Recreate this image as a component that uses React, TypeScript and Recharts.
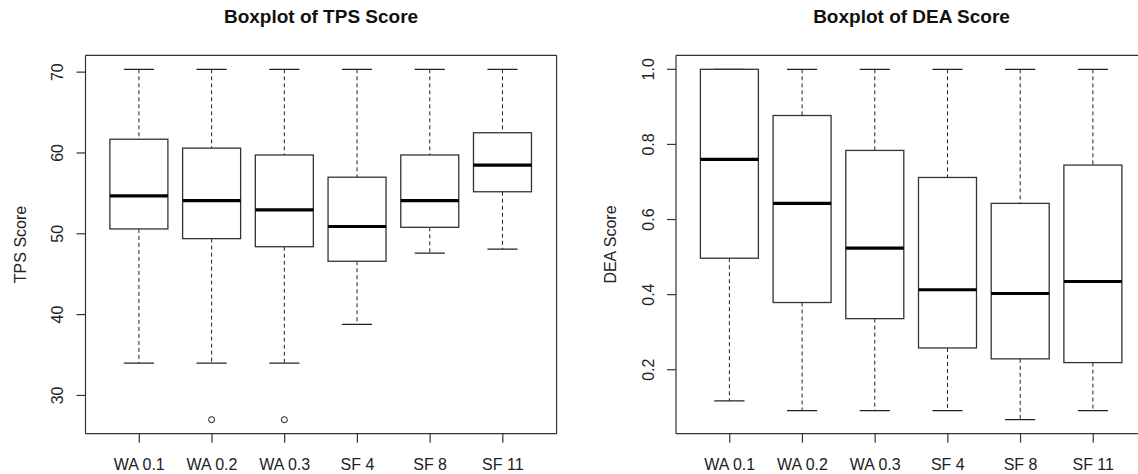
import React from "react";
import { ComposedChart, Bar, XAxis, YAxis, CartesianGrid } from "recharts";

const groups = ["WA 0.1", "WA 0.2", "WA 0.3", "SF 4", "SF 8", "SF 11"];

// TPS score
const tpsMin = [34.0, 34.0, 34.0, 38.8, 47.6, 48.1];
const tpsQ1 = [50.6, 49.4, 48.4, 46.6, 50.8, 55.2];
const tpsMedian = [54.7, 54.1, 52.95, 50.9, 54.1, 58.5];
const tpsQ3 = [61.7, 60.6, 59.75, 57.0, 59.75, 62.5];
const tpsMax = [70.35, 70.35, 70.35, 70.35, 70.35, 70.35];
const tpsOutliers: number[][] = [[], [27.0], [27.0], [], [], []];
const tpsTicks = [30, 40, 50, 60, 70];

// DEA score
const deaMin = [0.117, 0.091, 0.091, 0.091, 0.067, 0.091];
const deaQ1 = [0.497, 0.379, 0.336, 0.258, 0.229, 0.219];
const deaMedian = [0.76, 0.643, 0.524, 0.413, 0.403, 0.435];
const deaQ3 = [1.0, 0.877, 0.784, 0.712, 0.643, 0.745];
const deaMax = [1.0, 1.0, 1.0, 1.0, 1.0, 1.0];
const deaOutliers: number[][] = [[], [], [], [], [], []];
const deaTicks = [0.2, 0.4, 0.6, 0.8, 1.0];

const FONT = "'Liberation Sans', Arial, sans-serif";
const INK = "#222";

const buildRows = (mn: number[], q1: number[], md: number[], q3: number[], mx: number[], out: number[][]) =>
  groups.map((name, i) => ({ name, min: mn[i], q1: q1[i], median: md[i], q3: q3[i], max: mx[i], outliers: out[i] }));

// R-style axis range: data range plus 4% on each side
const rangeOf = (mn: number[], mx: number[], out: number[][]) => {
  const all = [...mn, ...mx, ...out.flat()];
  const lo = Math.min(...all);
  const hi = Math.max(...all);
  const pad = (hi - lo) * 0.04;
  return [lo - pad, hi + pad];
};

const BoxShape = (props: any) => {
  const { x, y, width, height, payload } = props;
  const top = Math.min(y, y + height);
  const bottom = Math.max(y, y + height);
  const span = payload.max - payload.min;
  const py = (v: number) => top + ((payload.max - v) / span) * (bottom - top);
  const cx = x + width / 2;
  const cap = width * 0.26;
  const yQ1 = py(payload.q1);
  const yQ3 = py(payload.q3);
  const yMed = py(payload.median);
  return (
    <g>
      <line x1={cx} x2={cx} y1={top} y2={yQ3} stroke={INK} strokeDasharray="4 3" />
      <line x1={cx} x2={cx} y1={yQ1} y2={bottom} stroke={INK} strokeDasharray="4 3" />
      <line x1={cx - cap} x2={cx + cap} y1={top} y2={top} stroke={INK} strokeWidth={1.2} />
      <line x1={cx - cap} x2={cx + cap} y1={bottom} y2={bottom} stroke={INK} strokeWidth={1.2} />
      <rect x={x} y={yQ3} width={width} height={yQ1 - yQ3} fill="#fff" stroke="#333" strokeWidth={1.3} />
      <line x1={x} x2={x + width} y1={yMed} y2={yMed} stroke="#000" strokeWidth={3.2} />
      {payload.outliers.map((o: number, k: number) => (
        <circle key={k} cx={cx} cy={py(o)} r={3} fill="none" stroke="#111" strokeWidth={1} />
      ))}
    </g>
  );
};

const XTick = ({ x, y, payload }: any) => (
  <text x={x} y={y + 25} textAnchor="middle" fontSize={16} fontFamily={FONT} fill={INK}>
    {payload.value}
  </text>
);

const makeYTick = (fmt: (v: number) => string) => ({ x, y, payload }: any) => (
  <text
    x={x - 11}
    y={y}
    transform={`rotate(-90, ${x - 11}, ${y})`}
    textAnchor="middle"
    fontSize={16}
    fontFamily={FONT}
    fill={INK}
  >
    {fmt(payload.value)}
  </text>
);

const makeAxisTitle = (text: string) => (p: any) => {
  const vb = p.viewBox || {};
  const bx = vb.x + vb.width - 60;
  const by = vb.y + vb.height / 2;
  return (
    <text x={bx} y={by} transform={`rotate(-90, ${bx}, ${by})`} textAnchor="middle" fontSize={16} fontFamily={FONT} fill={INK}>
      {text}
    </text>
  );
};

type PanelProps = {
  left: number;
  width: number;
  axisWidth: number;
  title: string;
  yTitle: string;
  rows: any[];
  domain: number[];
  ticks: number[];
  fmt: (v: number) => string;
};

const Panel = ({ left, width, axisWidth, title, yTitle, rows, domain, ticks, fmt }: PanelProps) => {
  const marginRight = 12.4;
  return (
    <div style={{ position: "absolute", left, top: 0, width, height: 474 }}>
      <div
        style={{
          position: "absolute",
          left: axisWidth,
          width: width - axisWidth - marginRight,
          top: 6.8,
          textAlign: "center",
          fontFamily: FONT,
          fontWeight: "bold",
          fontSize: 19,
          lineHeight: 1,
          color: "#111",
          whiteSpace: "nowrap",
        }}
      >
        {title}
      </div>
      <ComposedChart width={width} height={474} data={rows} margin={{ top: 55.3, right: marginRight, bottom: 0.3, left: 0 }}>
        <CartesianGrid
          stroke="#333"
          strokeWidth={1.2}
          horizontalCoordinatesGenerator={({ offset }: any) => [offset.top, offset.top + offset.height]}
          verticalCoordinatesGenerator={({ offset }: any) => [offset.left, offset.left + offset.width]}
        />
        <XAxis
          dataKey="name"
          type="category"
          height={40}
          padding={{ left: 17.4, right: 17.4 }}
          axisLine={false}
          tickLine={{ stroke: "#333", strokeWidth: 1.2 }}
          tickSize={9}
          tickMargin={2}
          interval={0}
          tick={<XTick />}
        />
        <YAxis
          type="number"
          width={axisWidth}
          domain={domain}
          ticks={ticks}
          allowDataOverflow
          axisLine={false}
          tickLine={{ stroke: "#333", strokeWidth: 1.2 }}
          tickSize={9}
          tickMargin={2}
          tick={makeYTick(fmt)}
          label={{ content: makeAxisTitle(yTitle) }}
        />
        <Bar
          dataKey={(d: any) => [d.min, d.max]}
          barSize={58}
          isAnimationActive={false}
          shape={(p: any) => <BoxShape {...p} />}
        />
      </ComposedChart>
    </div>
  );
};

const tpsRows = buildRows(tpsMin, tpsQ1, tpsMedian, tpsQ3, tpsMax, tpsOutliers);
const deaRows = buildRows(deaMin, deaQ1, deaMedian, deaQ3, deaMax, deaOutliers);

export default function App() {
  return (
    <div style={{ position: "absolute", left: 0, top: 0, width: 1138, height: 474, overflow: "hidden", background: "#fff" }}>
      <Panel
        left={0}
        width={569}
        axisWidth={85.5}
        title="Boxplot of TPS Score"
        yTitle="TPS Score"
        rows={tpsRows}
        domain={rangeOf(tpsMin, tpsMax, tpsOutliers)}
        ticks={tpsTicks}
        fmt={(v) => String(v)}
      />
      <Panel
        left={569}
        width={590.4}
        axisWidth={107}
        title="Boxplot of DEA Score"
        yTitle="DEA Score"
        rows={deaRows}
        domain={rangeOf(deaMin, deaMax, deaOutliers)}
        ticks={deaTicks}
        fmt={(v) => v.toFixed(1)}
      />
    </div>
  );
}
